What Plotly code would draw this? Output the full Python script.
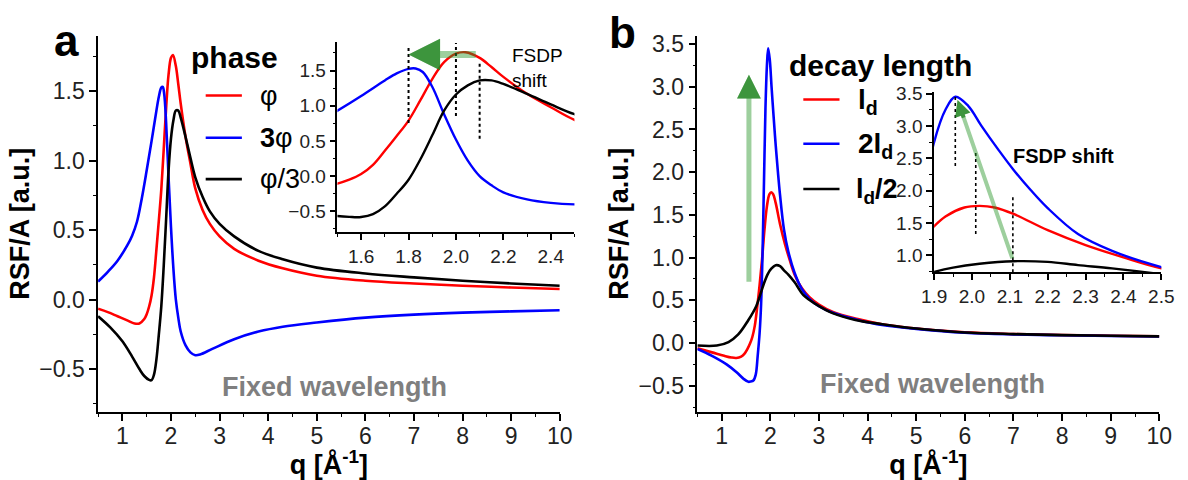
import plotly.graph_objects as go

W, H = 1188, 480

# ---------------- data: panel a (phase) ----------------
qa_phi = [0.5, 0.7, 0.9, 1.1, 1.25, 1.35, 1.45, 1.5, 1.55, 1.6, 1.65, 1.7, 1.75, 1.8, 1.85, 1.9, 1.95, 2.0, 2.04,
          2.1, 2.15, 2.2, 2.3, 2.4, 2.5, 2.65, 2.8, 3.0, 3.3, 3.8, 4.3, 5, 6, 7, 8, 9, 10]
va_phi = [-0.066, -0.09, -0.12, -0.15, -0.172, -0.172, -0.14, -0.105, -0.05, 0.03, 0.16, 0.36, 0.57, 0.79, 1.08, 1.38,
          1.62, 1.74, 1.76, 1.68, 1.55, 1.41, 1.17, 0.98, 0.80, 0.645, 0.545, 0.455, 0.365, 0.28, 0.225, 0.172, 0.136,
          0.116, 0.10, 0.087, 0.076]

qa_3phi = [0.5, 0.7, 0.9, 1.1, 1.2, 1.3, 1.4, 1.5, 1.6, 1.7, 1.75, 1.8, 1.83, 1.86, 1.9, 1.95, 2.0, 2.05, 2.1, 2.15,
           2.2, 2.3, 2.4, 2.5, 2.6, 2.85, 3.3, 3.8, 4.3, 5, 6, 7, 8, 9, 10]
va_3phi = [0.13, 0.20, 0.28, 0.39, 0.46, 0.56, 0.73, 0.93, 1.14, 1.36, 1.46, 1.525, 1.53, 1.48, 1.27, 0.88, 0.52, 0.22,
           0.0, -0.13, -0.23, -0.33, -0.38, -0.40, -0.395, -0.355, -0.285, -0.23, -0.195, -0.165, -0.13, -0.108,
           -0.094, -0.085, -0.077]

qa_phi3 = [0.5, 0.75, 1.0, 1.2, 1.35, 1.45, 1.55, 1.6, 1.65, 1.7, 1.75, 1.8, 1.85, 1.9, 1.95, 2.0, 2.05, 2.1, 2.15,
           2.2, 2.3, 2.4, 2.5, 2.65, 2.8, 3.0, 3.3, 3.8, 4.3, 5, 6, 7, 8, 9, 10]
va_phi3 = [-0.12, -0.20, -0.30, -0.41, -0.50, -0.55, -0.578, -0.58, -0.54, -0.43, -0.25, -0.05, 0.24, 0.58, 0.93,
           1.16, 1.29, 1.36, 1.36, 1.31, 1.17, 1.02, 0.88, 0.74, 0.635, 0.545, 0.455, 0.35, 0.29, 0.23, 0.188, 0.16,
           0.136, 0.116, 0.10]

# FSDP peak markers, panel a inset (3phi, phi, phi/3)
peak_q_a = [1.80, 2.00, 2.10]
peak_lo_a = [0.755, 0.856, 0.53]
peak_hi_a = [1.84, 1.89, 1.63]
shift_level_a = 1.73

# ---------------- data: panel b (decay length) ----------------
qb_ld = [0.5, 0.8, 1.05, 1.2, 1.3, 1.4, 1.47, 1.53, 1.58, 1.63, 1.68, 1.73, 1.78, 1.83, 1.88, 1.93, 1.98, 2.02, 2.06,
         2.11, 2.2, 2.3, 2.4, 2.5, 2.65, 2.8, 3.0, 3.3, 3.8, 4.3, 5, 6, 7, 8, 9, 10]
vb_ld = [-0.063, -0.11, -0.15, -0.17, -0.175, -0.16, -0.125, -0.07, -0.01, 0.07, 0.20, 0.42, 0.68, 0.98, 1.33, 1.60,
         1.74, 1.765, 1.74, 1.64, 1.39, 1.16, 0.97, 0.80, 0.64, 0.54, 0.45, 0.36, 0.28, 0.22, 0.17, 0.125, 0.105,
         0.093, 0.085, 0.078]

qb_2ld = [0.5, 0.8, 1.1, 1.3, 1.45, 1.55, 1.6, 1.65, 1.7, 1.74, 1.78, 1.81, 1.84, 1.87, 1.9, 1.93, 1.956, 1.99, 2.025,
          2.07, 2.11, 2.155, 2.2, 2.28, 2.37, 2.5, 2.65, 2.8, 3.0, 3.3, 3.8, 4.3, 5, 6, 7, 8, 9, 10]
vb_2ld = [-0.07, -0.15, -0.25, -0.34, -0.42, -0.455, -0.45, -0.44, -0.37, -0.15, 0.12, 0.45, 1.05, 1.90, 2.75, 3.25,
          3.45, 3.31, 3.0, 2.63, 2.32, 2.01, 1.73, 1.33, 1.07, 0.82, 0.63, 0.52, 0.43, 0.35, 0.27, 0.21, 0.165, 0.12,
          0.10, 0.09, 0.082, 0.075]

qb_ld2 = [0.5, 0.9, 1.14, 1.34, 1.54, 1.71, 1.79, 1.87, 1.95, 2.02, 2.11, 2.2, 2.28, 2.37, 2.5, 2.68, 2.95, 3.28, 3.75,
          4.3, 5, 6, 7, 8, 9, 10]
vb_ld2 = [-0.03, -0.03, 0.01, 0.10, 0.26, 0.43, 0.56, 0.70, 0.81, 0.87, 0.91, 0.90, 0.85, 0.80, 0.71, 0.56, 0.45,
          0.35, 0.27, 0.22, 0.17, 0.123, 0.104, 0.092, 0.085, 0.077]

peak_q_b = [1.956, 2.01, 2.108]
peak_lo_b = [2.38, 1.33, 0.74]
peak_hi_b = [3.48, 2.62, 1.91]
arrow_b_inset = dict(q0=2.108, v0=0.93, q1=1.962, v1=3.40)
arrow_b_main = dict(q=1.56, v0=0.70, v1=3.14)

RED, BLUE, BLACK = "#ff0000", "#0000ff", "#000000"
FONT = "Arial, Liberation Sans, sans-serif"

fig = go.Figure()


def line(q, v, color, xa, ya, width):
    fig.add_trace(go.Scatter(x=q, y=v, mode="lines", xaxis=xa, yaxis=ya, showlegend=False, hoverinfo="skip",
                             line=dict(color=color, width=width, shape="spline", smoothing=1.0)))


for xa, ya, w in (("x", "y", 2.6), ("x2", "y2", 2.4)):
    line(qa_phi, va_phi, RED, xa, ya, w)
    line(qa_3phi, va_3phi, BLUE, xa, ya, w)
    line(qa_phi3, va_phi3, BLACK, xa, ya, w)
for xa, ya, w in (("x3", "y3", 2.6), ("x4", "y4", 2.4)):
    line(qb_ld, vb_ld, RED, xa, ya, w)
    line(qb_2ld, vb_2ld, BLUE, xa, ya, w)
    line(qb_ld2, vb_ld2, BLACK, xa, ya, w)

# dotted peak markers
for q, lo, hi in zip(peak_q_a, peak_lo_a, peak_hi_a):
    fig.add_trace(go.Scatter(x=[q, q], y=[lo, hi], mode="lines", xaxis="x2", yaxis="y2", showlegend=False,
                             hoverinfo="skip", line=dict(color="black", width=2, dash="dot")))
for q, lo, hi in zip(peak_q_b, peak_lo_b, peak_hi_b):
    fig.add_trace(go.Scatter(x=[q, q], y=[lo, hi], mode="lines", xaxis="x4", yaxis="y4", showlegend=False,
                             hoverinfo="skip", line=dict(color="black", width=1.6, dash="dot")))


def px(x):
    return x / W


def py(y):
    return 1 - y / H


def xaxis(dom, rng, dtick, minor, tl, fs, fmt=None, tick0=0):
    d = dict(domain=[px(dom[0]), px(dom[1])], range=rng, dtick=dtick, tick0=tick0, ticks="outside", ticklen=tl,
             tickwidth=1.5, tickcolor="black", showline=True, linewidth=1.6, linecolor="black", showgrid=False,
             zeroline=False, tickfont=dict(family=FONT, size=fs, color="#222"),
             minor=dict(dtick=minor, ticks="outside", ticklen=max(3, tl // 2), tickwidth=1.2, tickcolor="black",
                        showgrid=False))
    if fmt:
        d["tickformat"] = fmt
    return d


def yaxis(dom, rng, dtick, minor, tl, fs, fmt=".1f"):
    return dict(domain=[py(dom[1]), py(dom[0])], range=rng, dtick=dtick, tick0=0, ticks="outside", ticklen=tl,
                tickwidth=1.5, tickcolor="black", showline=True, linewidth=1.6, linecolor="black", showgrid=False,
                zeroline=False, tickformat=fmt, tickfont=dict(family=FONT, size=fs, color="#222"),
                minor=dict(dtick=minor, ticks="outside", ticklen=max(3, tl // 2), tickwidth=1.2, tickcolor="black",
                           showgrid=False))


xt = dict(text="<b>q [Å<sup>-1</sup>]</b>", font=dict(family=FONT, size=27, color="black"), standoff=2)
yt = dict(text="<b>RSF/A [a.u.]</b>", font=dict(family=FONT, size=27, color="black"), standoff=2)

fig.update_layout(
    width=W, height=H, margin=dict(l=0, r=0, t=0, b=0), paper_bgcolor="white", plot_bgcolor="rgba(0,0,0,0)",
    showlegend=False,
    xaxis=dict(**xaxis((87, 559), [0.5, 10], 1, 0.5, 7, 23), anchor="y", title=xt),
    yaxis=dict(**yaxis((28, 411), [-0.81, 1.9], 0.5, 0.25, 7, 23), anchor="x", title=yt),
    xaxis2=dict(**xaxis((331.7, 574), [1.5, 2.5], 0.2, 0.1, 6, 19, ".1f", tick0=1.6), anchor="y2"),
    yaxis2=dict(**yaxis((35, 228.3), [-0.8, 1.9], 0.5, 0.25, 6, 19), anchor="x2"),
    xaxis3=dict(**xaxis((699.7, 1172), [0.5, 10], 1, 0.5, 7, 23), anchor="y3", title=xt),
    yaxis3=dict(**yaxis((28, 411), [-0.81, 3.6], 0.5, 0.25, 7, 23), anchor="x3", title=yt),
    xaxis4=dict(**xaxis((941.7, 1174), [1.9, 2.5], 0.1, 0.05, 6, 19, ".1f", tick0=1.9), anchor="y4"),
    yaxis4=dict(**yaxis((85, 268.7), [0.74, 3.53], 0.5, 0.25, 6, 19), anchor="x4"),
)
try:
    fig.update_layout(xaxis_ticklabelstandoff=-5, xaxis3_ticklabelstandoff=-5)
except Exception:
    pass

ann = []


def text(t, x, y, size, bold=False, color="black", xanchor="left", yanchor="middle", align="left"):
    ann.append(dict(text=f"<b>{t}</b>" if bold else t, x=px(x), y=py(y), xref="paper", yref="paper",
                    showarrow=False, xanchor=xanchor, yanchor=yanchor, align=align,
                    font=dict(family=FONT, size=size, color=color)))


text("a", 55, 33, 44, True, xanchor="center")
text("b", 623, 25, 44, True, xanchor="center")
text("phase", 180, 50, 30, True)
text("φ", 250, 89, 27)
text("<b>3</b>φ", 250, 132, 27)
text("φ/3", 250, 174, 27)
text("decay length", 791, 58, 30, True)
text("l<sub>d</sub>", 862, 95, 28, True)
text("2l<sub>d</sub>", 862, 140, 28, True)
text("l<sub>d</sub>/2", 860, 186, 27, True)
text("Fixed wavelength", 329, 385, 27, True, color="#7f7f7f", xanchor="center")
text("Fixed wavelength", 940, 382, 27, True, color="#7f7f7f", xanchor="center")
text("FSDP<br>shift", 508, 36, 19, yanchor="top")
text("FSDP shift", 1020, 150, 20, True)

LIGHT = "rgba(40,150,40,0.45)"
DARK = "rgba(30,130,30,0.75)"


def arrow(x0, y0, x1, y1, xr, yr, width, size, f):
    # light full arrow, then a short darker one on top to darken the head
    ann.append(dict(x=x1, y=y1, ax=x0, ay=y0, xref=xr, yref=yr, axref=xr, ayref=yr, showarrow=True, arrowhead=2,
                    arrowsize=size, arrowwidth=width, arrowcolor=LIGHT, text=""))
    ann.append(dict(x=x1, y=y1, ax=x1 + (x0 - x1) * f, ay=y1 + (y0 - y1) * f, xref=xr, yref=yr, axref=xr, ayref=yr,
                    showarrow=True, arrowhead=2, arrowsize=size, arrowwidth=width, arrowcolor=DARK, text=""))


arrow(peak_q_a[2] - 0.01, shift_level_a, peak_q_a[0], shift_level_a, "x2", "y2", 7, 0.9, 0.38)
arrow(arrow_b_main["q"], arrow_b_main["v0"], arrow_b_main["q"], arrow_b_main["v1"], "x3", "y3", 5, 0.95, 0.12)
arrow(arrow_b_inset["q0"], arrow_b_inset["v0"], arrow_b_inset["q1"], arrow_b_inset["v1"], "x4", "y4", 4, 0.8, 0.12)
fig.update_layout(annotations=ann)

shapes = []
for yy, c in ((89, RED), (132, BLUE), (174, BLACK)):
    shapes.append(dict(type="line", xref="paper", yref="paper", x0=px(197), x1=px(234), y0=py(yy), y1=py(yy),
                       line=dict(color=c, width=2.6)))
for yy, c in ((93, RED), (138, BLUE), (184, BLACK)):
    shapes.append(dict(type="line", xref="paper", yref="paper", x0=px(808), x1=px(845), y0=py(yy), y1=py(yy),
                       line=dict(color=c, width=2.6)))
fig.update_layout(shapes=shapes)

fig.write_html("out.html")
